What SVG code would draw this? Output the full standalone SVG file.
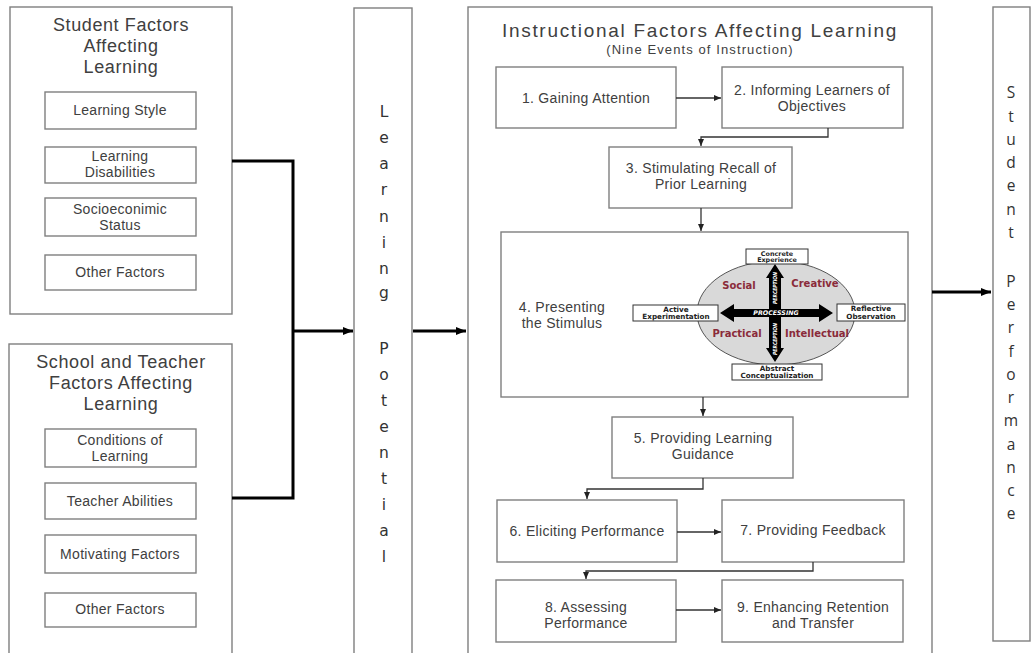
<svg xmlns="http://www.w3.org/2000/svg" width="1036" height="653" viewBox="0 0 1036 653">
<defs>
<style>
.box{fill:#fff;stroke:#7f7f7f;stroke-width:1.4}
.t{font-family:"Liberation Sans",Arial,sans-serif;fill:#404040;text-anchor:middle}
.s14{font-size:14px;letter-spacing:0.3px}
.ttl{font-size:18px;letter-spacing:0.6px}
.vl{font-family:"DejaVu Sans","Liberation Sans",sans-serif;font-size:15.5px;fill:#333;text-anchor:middle}
.vs{font-family:"Open Sans","Liberation Sans",sans-serif;font-size:15.5px;fill:#333;text-anchor:middle}
.thick{fill:none;stroke:#000;stroke-width:3}
.thin{fill:none;stroke:#333;stroke-width:1.3}
.kb{fill:#fff;stroke:#333;stroke-width:1}
.kt{font-family:"DejaVu Sans","Liberation Sans",sans-serif;font-weight:bold;font-size:7.2px;fill:#222;text-anchor:middle}
.kq{font-family:"DejaVu Sans","Liberation Sans",sans-serif;font-weight:bold;font-size:10px;fill:#8a2b3a;text-anchor:middle}
.kw{font-family:"DejaVu Sans","Liberation Sans",sans-serif;font-weight:bold;font-style:italic;font-size:6.3px;fill:#fff;text-anchor:middle}
</style>
<marker id="ah" markerWidth="10" markerHeight="8" refX="10" refY="4" orient="auto" markerUnits="userSpaceOnUse"><path d="M0,0 L10,4 L0,8 z" fill="#000"/></marker>
<marker id="as" markerWidth="7" markerHeight="6" refX="7" refY="3" orient="auto" markerUnits="userSpaceOnUse"><path d="M0,0 L7,3 L0,6 z" fill="#222"/></marker>
</defs>
<rect width="1036" height="653" fill="#fff"/>

<g id="student-factors">
<rect class="box" x="10" y="7" width="222" height="307"/>
<text class="t ttl" x="121" y="31"><tspan x="121">Student Factors</tspan><tspan x="121" dy="21">Affecting</tspan><tspan x="121" dy="21">Learning</tspan></text>
<rect class="box" x="45" y="92" width="151" height="37"/>
<text class="t s14" x="120" y="115">Learning Style</text>
<rect class="box" x="45" y="147" width="151" height="36"/>
<text class="t s14" x="120" y="161"><tspan x="120">Learning</tspan><tspan x="120" dy="16">Disabilities</tspan></text>
<rect class="box" x="45" y="198" width="151" height="38"/>
<text class="t s14" x="120" y="214"><tspan x="120">Socioeconimic</tspan><tspan x="120" dy="16">Status</tspan></text>
<rect class="box" x="45" y="255" width="151" height="35"/>
<text class="t s14" x="120" y="277">Other Factors</text>
</g>

<g id="school-teacher-factors">
<rect class="box" x="9" y="344" width="223" height="320"/>
<text class="t ttl" x="121" y="368"><tspan x="121">School and Teacher</tspan><tspan x="121" dy="21">Factors Affecting</tspan><tspan x="121" dy="21">Learning</tspan></text>
<rect class="box" x="45" y="429" width="151" height="38"/>
<text class="t s14" x="120" y="445"><tspan x="120">Conditions of</tspan><tspan x="120" dy="16">Learning</tspan></text>
<rect class="box" x="45" y="483" width="151" height="36"/>
<text class="t s14" x="120" y="506">Teacher Abilities</text>
<rect class="box" x="45" y="535" width="151" height="38"/>
<text class="t s14" x="120" y="559">Motivating Factors</text>
<rect class="box" x="45" y="593" width="151" height="34"/>
<text class="t s14" x="120" y="614">Other Factors</text>
</g>

<g id="learning-potential">
<rect class="box" x="354" y="8" width="58" height="660"/>
<text class="vl" x="384" y="117">L</text>
<text class="vl" x="384" y="143">e</text>
<text class="vl" x="384" y="169">a</text>
<text class="vl" x="384" y="195">r</text>
<text class="vl" x="384" y="222">n</text>
<text class="vl" x="384" y="248">i</text>
<text class="vl" x="384" y="274">n</text>
<text class="vl" x="384" y="298">g</text>
<text class="vl" x="384" y="354">P</text>
<text class="vl" x="384" y="380">o</text>
<text class="vl" x="384" y="406">t</text>
<text class="vl" x="384" y="432">e</text>
<text class="vl" x="384" y="458">n</text>
<text class="vl" x="384" y="484">t</text>
<text class="vl" x="384" y="510">i</text>
<text class="vl" x="384" y="536">a</text>
<text class="vl" x="384" y="562">l</text>
</g>

<g id="instructional-factors">
<rect class="box" x="468" y="7" width="464" height="660"/>
<text class="t" x="700" y="37" style="font-size:19px;letter-spacing:1.7px">Instructional Factors Affecting Learning</text>
<text class="t" x="700" y="54" style="font-size:13px;letter-spacing:1.1px">(Nine Events of Instruction)</text>
</g>

<g id="e1"><rect class="box" x="496" y="67" width="180" height="61"/><text class="t s14" x="586" y="103">1. Gaining Attention</text></g>
<g id="e2"><rect class="box" x="722" y="67" width="181" height="61"/><text class="t s14" x="812" y="95"><tspan x="812">2. Informing Learners of</tspan><tspan x="812" dy="16">Objectives</tspan></text></g>
<g id="e3"><rect class="box" x="609" y="147" width="183" height="61"/><text class="t s14" x="701" y="173"><tspan x="701">3. Stimulating Recall of</tspan><tspan x="701" dy="16">Prior Learning</tspan></text></g>
<g id="e4">
<rect class="box" x="501" y="232" width="407" height="165"/>
<text class="t s14" x="562" y="312"><tspan x="562">4. Presenting</tspan><tspan x="562" dy="16">the Stimulus</tspan></text>
<ellipse cx="776" cy="313" rx="79" ry="52" fill="#d9d9d9" stroke="#555" stroke-width="1"/>
<polygon fill="#000" points="720,313 734,304 734,309 819,309 819,304 833,313 819,322 819,317 734,317 734,322"/>
<polygon fill="#000" points="775,264 784,278 781,278 781,348 784,348 775,362 766,348 769,348 769,278 766,278"/>
<text class="kw" x="776" y="315.3">PROCESSING</text>
<text class="kw" transform="translate(777.2,288) rotate(-90)" style="font-size:5.6px" textLength="32" lengthAdjust="spacingAndGlyphs">PERCEPTION</text>
<text class="kw" transform="translate(777.2,339) rotate(-90)" style="font-size:5.6px" textLength="32" lengthAdjust="spacingAndGlyphs">PERCEPTION</text>
<text class="kq" x="739" y="289">Social</text>
<text class="kq" x="815" y="287">Creative</text>
<text class="kq" x="737" y="337">Practical</text>
<text class="kq" x="817" y="337">Intellectual</text>
<rect class="kb" x="746" y="249" width="62" height="15"/>
<text class="kt" x="777" y="255.5" style="font-size:6.4px"><tspan x="777">Concrete</tspan><tspan x="777" dy="6.5">Experience</tspan></text>
<rect class="kb" x="633" y="305" width="85" height="16"/>
<text class="kt" x="676" y="312"><tspan x="676">Active</tspan><tspan x="676" dy="7">Experimentation</tspan></text>
<rect class="kb" x="837" y="304" width="68" height="17"/>
<text class="kt" x="871" y="311"><tspan x="871">Reflective</tspan><tspan x="871" dy="7.5">Observation</tspan></text>
<rect class="kb" x="732" y="364" width="90" height="16"/>
<text class="kt" x="777" y="371"><tspan x="777">Abstract</tspan><tspan x="777" dy="7">Conceptualization</tspan></text>
</g>
<g id="e5"><rect class="box" x="612" y="417" width="181" height="61"/><text class="t s14" x="703" y="443"><tspan x="703">5. Providing Learning</tspan><tspan x="703" dy="16">Guidance</tspan></text></g>
<g id="e6"><rect class="box" x="497" y="500" width="180" height="62"/><text class="t s14" x="587" y="536">6. Eliciting Performance</text></g>
<g id="e7"><rect class="box" x="722" y="500" width="182" height="62"/><text class="t s14" x="813" y="535">7. Providing Feedback</text></g>
<g id="e8"><rect class="box" x="496" y="580" width="180" height="62"/><text class="t s14" x="586" y="612"><tspan x="586">8. Assessing</tspan><tspan x="586" dy="16">Performance</tspan></text></g>
<g id="e9"><rect class="box" x="722" y="580" width="181" height="62"/><text class="t s14" x="813" y="612"><tspan x="813">9. Enhancing Retention</tspan><tspan x="813" dy="16">and Transfer</tspan></text></g>

<g id="student-performance">
<rect class="box" x="993" y="7" width="37" height="634"/>
<text class="vs" x="1011" y="98">S</text>
<text class="vs" x="1011" y="122">t</text>
<text class="vs" x="1011" y="145">u</text>
<text class="vs" x="1011" y="168">d</text>
<text class="vs" x="1011" y="191">e</text>
<text class="vs" x="1011" y="215">n</text>
<text class="vs" x="1011" y="238">t</text>
<text class="vs" x="1011" y="287">P</text>
<text class="vs" x="1011" y="310">e</text>
<text class="vs" x="1011" y="333">r</text>
<text class="vs" x="1011" y="357">f</text>
<text class="vs" x="1011" y="380">o</text>
<text class="vs" x="1011" y="403">r</text>
<text class="vs" x="1011" y="426">m</text>
<text class="vs" x="1011" y="450">a</text>
<text class="vs" x="1011" y="473">n</text>
<text class="vs" x="1011" y="496">c</text>
<text class="vs" x="1011" y="519">e</text>
</g>

<g id="connectors">
<polyline class="thick" points="232,161 293,161 293,498 232,498"/>
<line class="thick" x1="293" y1="331" x2="353" y2="331" marker-end="url(#ah)"/>
<line class="thick" x1="413" y1="331" x2="466" y2="331" marker-end="url(#ah)"/>
<line class="thick" x1="932" y1="292" x2="991" y2="292" marker-end="url(#ah)"/>
<line class="thin" x1="676" y1="98" x2="721" y2="98" marker-end="url(#as)"/>
<polyline class="thin" points="828,128 828,137 701,137 701,146" marker-end="url(#as)"/>
<line class="thin" x1="701" y1="208" x2="701" y2="231" marker-end="url(#as)"/>
<line class="thin" x1="703" y1="397" x2="703" y2="416" marker-end="url(#as)"/>
<polyline class="thin" points="703,478 703,489 587,489 587,499" marker-end="url(#as)"/>
<line class="thin" x1="677" y1="532" x2="721" y2="532" marker-end="url(#as)"/>
<polyline class="thin" points="813,562 813,571 586,571 586,579" marker-end="url(#as)"/>
<line class="thin" x1="676" y1="610" x2="721" y2="610" marker-end="url(#as)"/>
</g>
</svg>
